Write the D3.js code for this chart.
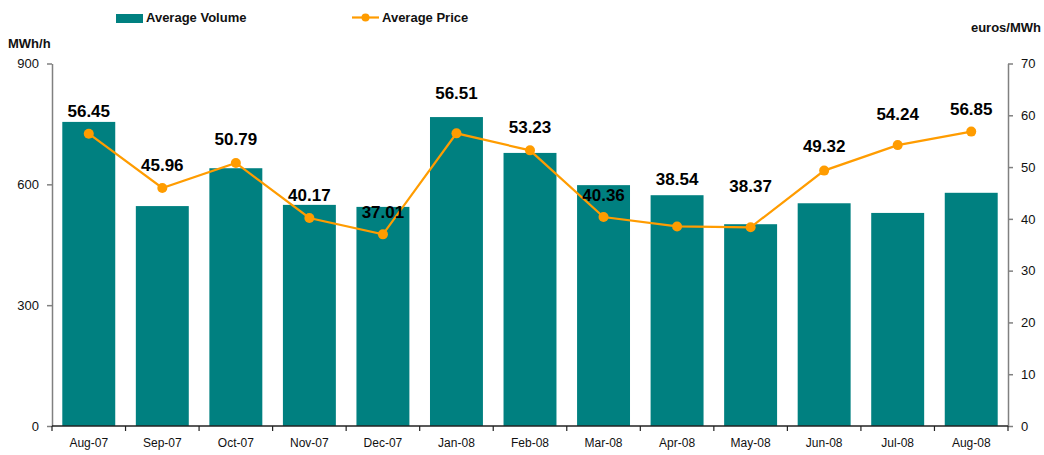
<!DOCTYPE html>
<html>
<head>
<meta charset="utf-8">
<script src="https://cdn.jsdelivr.net/npm/d3@7"></script>
<style>
  body { margin: 0; background: #fff; }
  svg { display: block; font-family: 'Liberation Sans', Arial, sans-serif; }
</style>
</head>
<body>
<div id="chart"></div>
<script>
// data
const MONTHS = ['Aug-07', 'Sep-07', 'Oct-07', 'Nov-07', 'Dec-07', 'Jan-08', 'Feb-08',
  'Mar-08', 'Apr-08', 'May-08', 'Jun-08', 'Jul-08', 'Aug-08'];
const VOLUME = [755, 546, 640, 549, 544, 767, 678, 598, 573, 501, 553, 529, 579];
const PRICE = [56.45, 45.96, 50.79, 40.17, 37.01, 56.51, 53.23, 40.36, 38.54, 38.37, 49.32, 54.24, 56.85];
const VOLUME_TICKS = [0, 300, 600, 900];
const PRICE_TICKS = [0, 10, 20, 30, 40, 50, 60, 70];

// layout
const W = 1044, H = 455;
const PLOT = { left: 52, right: 1008, top: 63.5, bottom: 426 };
// vertical offset of each value label from its point (px)
const LABEL_DY = [-23, -23, -24, -23, -22, -40, -23, -22, -47, -41, -25, -31, -23];
const TEAL = '#008080';
const ORANGE = '#FF9C00';
const AXIS = '#808080';

const svg = d3.select('#chart').append('svg').attr('width', W).attr('height', H);

const x = d3.scaleBand().domain(MONTHS).range([PLOT.left, PLOT.right])
  .paddingInner(0.28).paddingOuter(0.14);
const yL = d3.scaleLinear().domain([0, 900]).range([PLOT.bottom, PLOT.top]);
const yR = d3.scaleLinear().domain([0, 70]).range([PLOT.bottom, PLOT.top]);

// bars
svg.append('g').selectAll('rect')
  .data(VOLUME)
  .enter()
  .append('rect')
  .attr('x', (d, i) => x(MONTHS[i]))
  .attr('width', x.bandwidth())
  .attr('y', d => yL(d))
  .attr('height', d => yL(0) - yL(d))
  .attr('fill', TEAL);

// axes
function styleAxis(g) {
  g.selectAll('path, line').attr('stroke', AXIS).attr('stroke-width', 1.5);
  g.selectAll('text').attr('fill', '#111').attr('font-size', '13px');
}

svg.append('g')
  .attr('transform', `translate(${PLOT.left},0)`)
  .call(d3.axisLeft(yL).tickValues(VOLUME_TICKS).tickSize(5).tickSizeOuter(0).tickPadding(8))
  .call(styleAxis);

svg.append('g')
  .attr('transform', `translate(${PLOT.right},0)`)
  .call(d3.axisRight(yR).tickValues(PRICE_TICKS).tickSize(5).tickSizeOuter(0).tickPadding(8))
  .call(styleAxis);

// x axis: ticks between categories
const xAxisG = svg.append('g').attr('transform', `translate(0,${PLOT.bottom})`);
xAxisG.append('line')
  .attr('x1', PLOT.left).attr('x2', PLOT.right)
  .attr('stroke', '#222').attr('stroke-width', 1.5);
const bounds = MONTHS.map(m => x(m) - x.step() * x.paddingInner() / 2)
  .concat([PLOT.right]);
xAxisG.selectAll('line.tick')
  .data(bounds)
  .enter()
  .append('line')
  .attr('class', 'tick')
  .attr('x1', d => d).attr('x2', d => d)
  .attr('y1', 0).attr('y2', 5)
  .attr('stroke', '#222').attr('stroke-width', 1.2);
xAxisG.selectAll('text')
  .data(MONTHS)
  .enter()
  .append('text')
  .attr('x', d => x(d) + x.bandwidth() / 2)
  .attr('y', 21)
  .attr('text-anchor', 'middle')
  .attr('font-size', '12px')
  .attr('fill', '#111')
  .text(d => d);

// price line
const cx = i => x(MONTHS[i]) + x.bandwidth() / 2;
const line = d3.line().x((d, i) => cx(i)).y(d => yR(d));
svg.append('path')
  .datum(PRICE)
  .attr('d', line)
  .attr('fill', 'none')
  .attr('stroke', ORANGE)
  .attr('stroke-width', 2.2);

svg.append('g').selectAll('circle')
  .data(PRICE)
  .enter()
  .append('circle')
  .attr('cx', (d, i) => cx(i))
  .attr('cy', d => yR(d))
  .attr('r', 5)
  .attr('fill', ORANGE);

svg.append('g').selectAll('text')
  .data(PRICE)
  .enter()
  .append('text')
  .attr('x', (d, i) => cx(i))
  .attr('y', (d, i) => yR(d) + LABEL_DY[i])
  .attr('dy', '0.35em')
  .attr('text-anchor', 'middle')
  .attr('font-size', '17px')
  .attr('font-weight', 'bold')
  .attr('fill', '#000')
  .text(d => d.toFixed(2));

// axis titles
svg.append('text')
  .attr('x', 8).attr('y', 43).attr('dy', '0.35em')
  .attr('font-size', '13px').attr('font-weight', 'bold').attr('fill', '#111')
  .text('MWh/h');
svg.append('text')
  .attr('x', 1041).attr('y', 27).attr('dy', '0.35em')
  .attr('text-anchor', 'end')
  .attr('font-size', '13px').attr('font-weight', 'bold').attr('fill', '#111')
  .text('euros/MWh');

// legend
const legend = svg.append('g');
legend.append('rect')
  .attr('x', 116).attr('y', 14).attr('width', 27).attr('height', 9)
  .attr('fill', TEAL);
legend.append('text')
  .attr('x', 146).attr('y', 17.5).attr('dy', '0.35em')
  .attr('font-size', '13px').attr('font-weight', 'bold').attr('fill', '#111')
  .text('Average Volume');
legend.append('line')
  .attr('x1', 352).attr('x2', 379).attr('y1', 17.5).attr('y2', 17.5)
  .attr('stroke', ORANGE).attr('stroke-width', 2.2);
legend.append('circle')
  .attr('cx', 365.5).attr('cy', 17.5).attr('r', 4)
  .attr('fill', ORANGE);
legend.append('text')
  .attr('x', 382).attr('y', 17.5).attr('dy', '0.35em')
  .attr('font-size', '13px').attr('font-weight', 'bold').attr('fill', '#111')
  .text('Average Price');
</script>
</body>
</html>
